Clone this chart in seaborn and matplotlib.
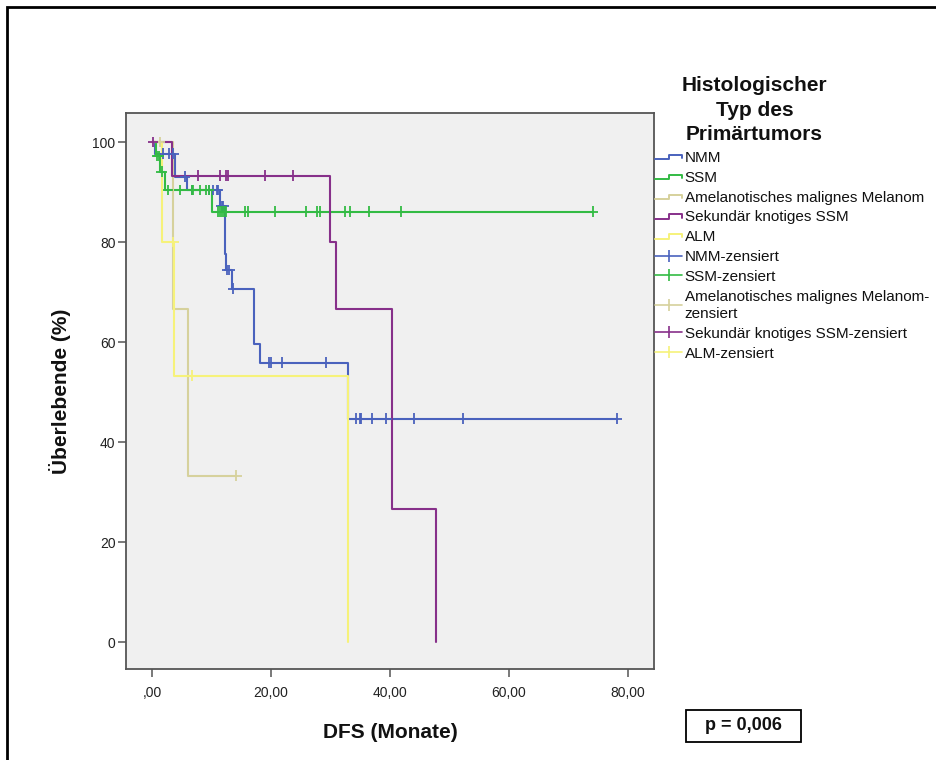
import numpy as np
import pandas as pd
import matplotlib
matplotlib.use("Agg")
import matplotlib.pyplot as plt
from matplotlib.lines import Line2D
from matplotlib.patches import Rectangle
from matplotlib.legend_handler import HandlerBase
import seaborn as sns

# ---------------- data ----------------
groups = ["NMM", "SSM", "Amelanotisches malignes Melanom",
          "Sekundär knotiges SSM", "ALM"]
colors = ["#4a62bd", "#33bb44", "#d6d19c", "#87308a", "#f6f27a"]

# step points (time in months, survival in %)
nmm_t = [0, 0.5, 3.8, 5.9, 11.4, 12.3, 12.5, 13.4, 17.2, 18.1, 32.9, 78.1]
nmm_s = [100, 97.7, 93.1, 90.4, 87.2, 77.7, 74.4, 70.7, 59.6, 55.9, 44.7, 44.7]
nmm_c = [1.9, 2.9, 3.6, 5.5, 6.7, 9.5, 10.3, 10.9, 11.1, 11.7, 12.0, 12.6, 13.0,
         13.6, 19.7, 20.0, 21.8, 29.2, 34.3, 35.0, 35.2, 37.0, 39.4, 44.0,
         52.2, 78.1]

ssm_t = [0, 0.6, 1.3, 2.2, 10.0, 74.1]
ssm_s = [100, 97.2, 94.1, 90.4, 86.1, 86.1]
ssm_c = [0.8, 1.1, 1.6, 2.7, 4.7, 6.7, 6.9, 8.1, 9.1, 9.6, 11.1, 11.4, 11.7,
         12.1, 12.5, 15.6, 16.2, 20.7, 25.9, 27.7, 28.2, 32.4, 33.3, 36.5,
         41.8, 74.1]

amm_t = [0, 3.6, 6.0, 14.2]
amm_s = [100, 66.7, 33.3, 33.3]
amm_c = [1.3, 14.2]

sek_t = [0, 3.3, 29.9, 30.9, 40.4, 47.7]
sek_s = [100, 93.3, 80.0, 66.7, 26.7, 0]
sek_c = [0.2, 7.7, 11.4, 12.5, 12.8, 19.0, 23.7]

alm_t = [0, 1.7, 3.75, 32.9]
alm_s = [100, 80.0, 53.3, 0]
alm_c = [3.6, 6.8]

x_ticks = [0, 20, 40, 60, 80]
x_tick_labels = [",00", "20,00", "40,00", "60,00", "80,00"]
y_ticks = [0, 20, 40, 60, 80, 100]
y_tick_labels = ["0", "20", "40", "60", "80", "100"]

legend_title = "Histologischer\nTyp des\nPrimärtumors"
censor_labels = ["NMM-zensiert", "SSM-zensiert",
                 "Amelanotisches malignes Melanom-\nzensiert",
                 "Sekundär knotiges SSM-zensiert", "ALM-zensiert"]
p_text = "p = 0,006"

# ---------------- build tables ----------------
curves = [(nmm_t, nmm_s, nmm_c), (ssm_t, ssm_s, ssm_c), (amm_t, amm_s, amm_c),
          (sek_t, sek_s, sek_c), (alm_t, alm_s, alm_c)]

step_rows, cens_rows = [], []
for g, (ts, ss, cs) in zip(groups, curves):
    for t, s in zip(ts, ss):
        step_rows.append((g, t, s))
    ts_arr = np.asarray(ts)
    for c in cs:
        idx = np.searchsorted(ts_arr, c, side="right") - 1
        cens_rows.append((g, c, ss[idx]))
steps = pd.DataFrame(step_rows, columns=["Gruppe", "Monate", "Surv"])
cens = pd.DataFrame(cens_rows, columns=["Gruppe", "Monate", "Surv"])
palette = dict(zip(groups, colors))

# ---------------- figure ----------------
sns.set_theme(style="white")
plt.rcParams["font.family"] = ["Liberation Sans", "DejaVu Sans"]

W, H = 937, 760
fig = plt.figure(figsize=(W / 100, H / 100), dpi=100)
fig.patch.set_facecolor("white")
ax = fig.add_axes([126 / W, 1 - 669 / H, (654 - 126) / W, (669 - 113) / H])
ax.set_facecolor("#f0f0f0")

sns.lineplot(data=steps, x="Monate", y="Surv", hue="Gruppe", hue_order=groups,
             palette=palette, estimator=None, sort=False, units="Gruppe",
             drawstyle="steps-post", linewidth=1.5, legend=False, ax=ax)
sns.scatterplot(data=cens, x="Monate", y="Surv", hue="Gruppe", hue_order=groups,
                palette=palette, marker="+", s=55, linewidth=1.3, legend=False,
                ax=ax, zorder=3)

ax.set_xlim(-4.37, 84.37)
ax.set_ylim(-5.4, 105.8)
ax.set_xticks(x_ticks)
ax.set_xticklabels(x_tick_labels)
ax.set_yticks(y_ticks)
ax.set_yticklabels(y_tick_labels)
ax.tick_params(axis="both", direction="out", length=6, width=1.1,
               color="#555555", labelsize=10, labelcolor="#222222",
               bottom=True, left=True)
ax.tick_params(axis="x", pad=6)
ax.tick_params(axis="y", pad=1.5)
for sp in ax.spines.values():
    sp.set_color("#555555")
    sp.set_linewidth(1.3)
    sp.set_visible(True)

ax.set_xlabel("DFS (Monate)", fontsize=15, fontweight="bold", color="#111111")
ax.set_ylabel("Überlebende (%)", fontsize=15, fontweight="bold", color="#111111")
ax.xaxis.set_label_coords(0.5, (669 - 732) / 556)
ax.xaxis.label.set_va("center")
ax.yaxis.set_label_coords((60 - 126) / 528, 0.5)
ax.yaxis.label.set_va("center")


# ---------------- legend ----------------
class StepHandler(HandlerBase):
    def create_artists(self, legend, orig_handle, xdescent, ydescent, width,
                       height, fontsize, trans):
        x0, y0 = -xdescent, -ydescent
        lo, hi = y0 + 0.25 * height, y0 + 0.65 * height
        xs = [x0, x0 + 0.5 * width, x0 + 0.5 * width, x0 + width, x0 + width]
        ys = [lo, lo, hi, hi, lo + 0.1 * height]
        ln = Line2D(xs, ys, color=orig_handle.get_color(),
                    lw=orig_handle.get_linewidth(), transform=trans)
        return [ln]


step_handles = [Line2D([], [], color=c, lw=1.4) for c in colors]
cens_handles = [Line2D([], [], color=c, lw=1.2, marker="|", markersize=9,
                       markeredgewidth=1.2) for c in colors]
handler_map = {h: StepHandler() for h in step_handles}
leg = fig.legend(step_handles + cens_handles, groups + censor_labels,
                 loc="upper left", bbox_to_anchor=(655 / W, 1 - 151 / H),
                 bbox_transform=fig.transFigure, frameon=False, fontsize=11,
                 handlelength=1.8, handletextpad=0.15, borderpad=0,
                 borderaxespad=0, labelspacing=0.38, handler_map=handler_map)
for t in leg.get_texts():
    t.set_color("#111111")
    t.set_linespacing(1.3)

fig.text(754.5 / W, 1 - 110 / H, legend_title, ha="center", va="center",
         multialignment="center", fontsize=15, fontweight="bold",
         color="#111111", linespacing=1.38)

# p-value box
fig.patches.append(Rectangle((686 / W, 1 - 742 / H), 115 / W, 32 / H,
                             transform=fig.transFigure, fill=False,
                             ec="black", lw=1.3))
fig.text(743.5 / W, 1 - 726 / H, p_text, ha="center", va="center",
         fontsize=13, fontweight="bold", color="#111111")

# outer frame
fig.patches.append(Rectangle((7 / W, -0.05), 1.1, 1 - 7 / H + 0.05,
                             transform=fig.transFigure, fill=False,
                             ec="black", lw=2))

fig.savefig("out.png", dpi=100)
